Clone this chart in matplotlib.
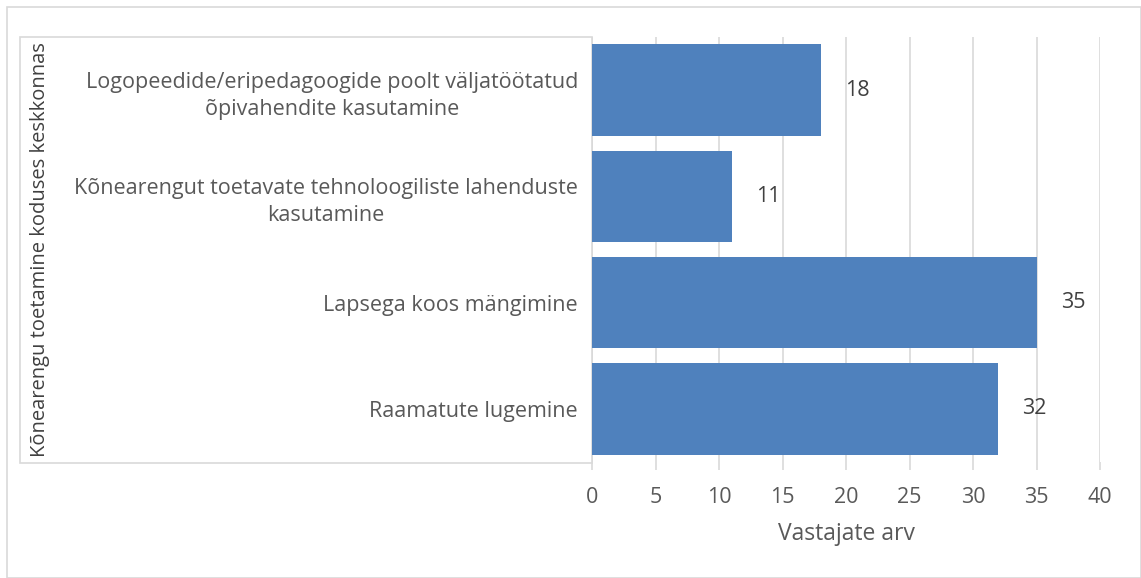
import matplotlib.pyplot as plt
from matplotlib.patches import Rectangle

categories = [
    "Raamatute lugemine",
    "Lapsega koos mängimine",
    "Kõnearengut toetavate tehnoloogiliste lahenduste\nkasutamine",
    "Logopeedide/eripedagoogide poolt väljatöötatud\nõpivahendite kasutamine",
]
values = [32, 35, 11, 18]
x_ticks = [0, 5, 10, 15, 20, 25, 30, 35, 40]

BAR_COLOR = "#4F81BD"
GRID_COLOR = "#D9D9D9"
TEXT_COLOR = "#595959"

plt.rcParams["font.family"] = ["Open Sans", "DejaVu Sans"]

W, H = 1141, 578
fig = plt.figure(figsize=(W / 100, H / 100), dpi=100)

# outer chart border
fig.patches.append(Rectangle((7 / W, 0), 1 - 7 / W, 1 - 7 / H, transform=fig.transFigure,
                             fill=False, edgecolor=GRID_COLOR, linewidth=1.2, zorder=-2))
# box behind category labels
fig.patches.append(Rectangle((20 / W, 1 - 463 / H), (592 - 20) / W, (463 - 37) / H,
                             transform=fig.transFigure, facecolor="white",
                             edgecolor=GRID_COLOR, linewidth=1.2, zorder=-1))

ax = fig.add_axes([592 / W, 1 - 462 / H, (1100 - 592) / W, (462 - 37) / H])
ax.patch.set_alpha(0)

ypos = range(len(categories))
ax.barh(ypos, values, height=0.86, color=BAR_COLOR, zorder=3)
for y, v in zip(ypos, values):
    ax.text(v + 1.9, y, str(v), va="center", ha="left", fontsize=15.5, color="#404040", zorder=4)

ax.set_xlim(0, 40)
ax.set_ylim(-0.5, len(categories) - 0.5)
ax.set_xticks(x_ticks)
ax.set_yticks(list(ypos), categories, fontsize=15.5, color=TEXT_COLOR,
              multialignment="center", linespacing=1.4)
ax.tick_params(axis="y", length=0, pad=10)
ax.tick_params(axis="x", length=6, color=GRID_COLOR, width=1.2, labelsize=15.5,
               labelcolor=TEXT_COLOR, pad=12)
ax.grid(axis="x", color=GRID_COLOR, linewidth=1.2, zorder=0)
for s in ax.spines.values():
    s.set_visible(False)
ax.axvline(0, color=GRID_COLOR, linewidth=1.2, zorder=1)

ax.set_xlabel("Vastajate arv", fontsize=16.5, color=TEXT_COLOR, labelpad=10)
fig.text(40 / W, 1 - 250 / H, "Kõnearengu toetamine koduses keskkonnas", rotation=90,
         ha="center", va="center", fontsize=14.5, color="#404040")

fig.savefig("out.png", dpi=100)
